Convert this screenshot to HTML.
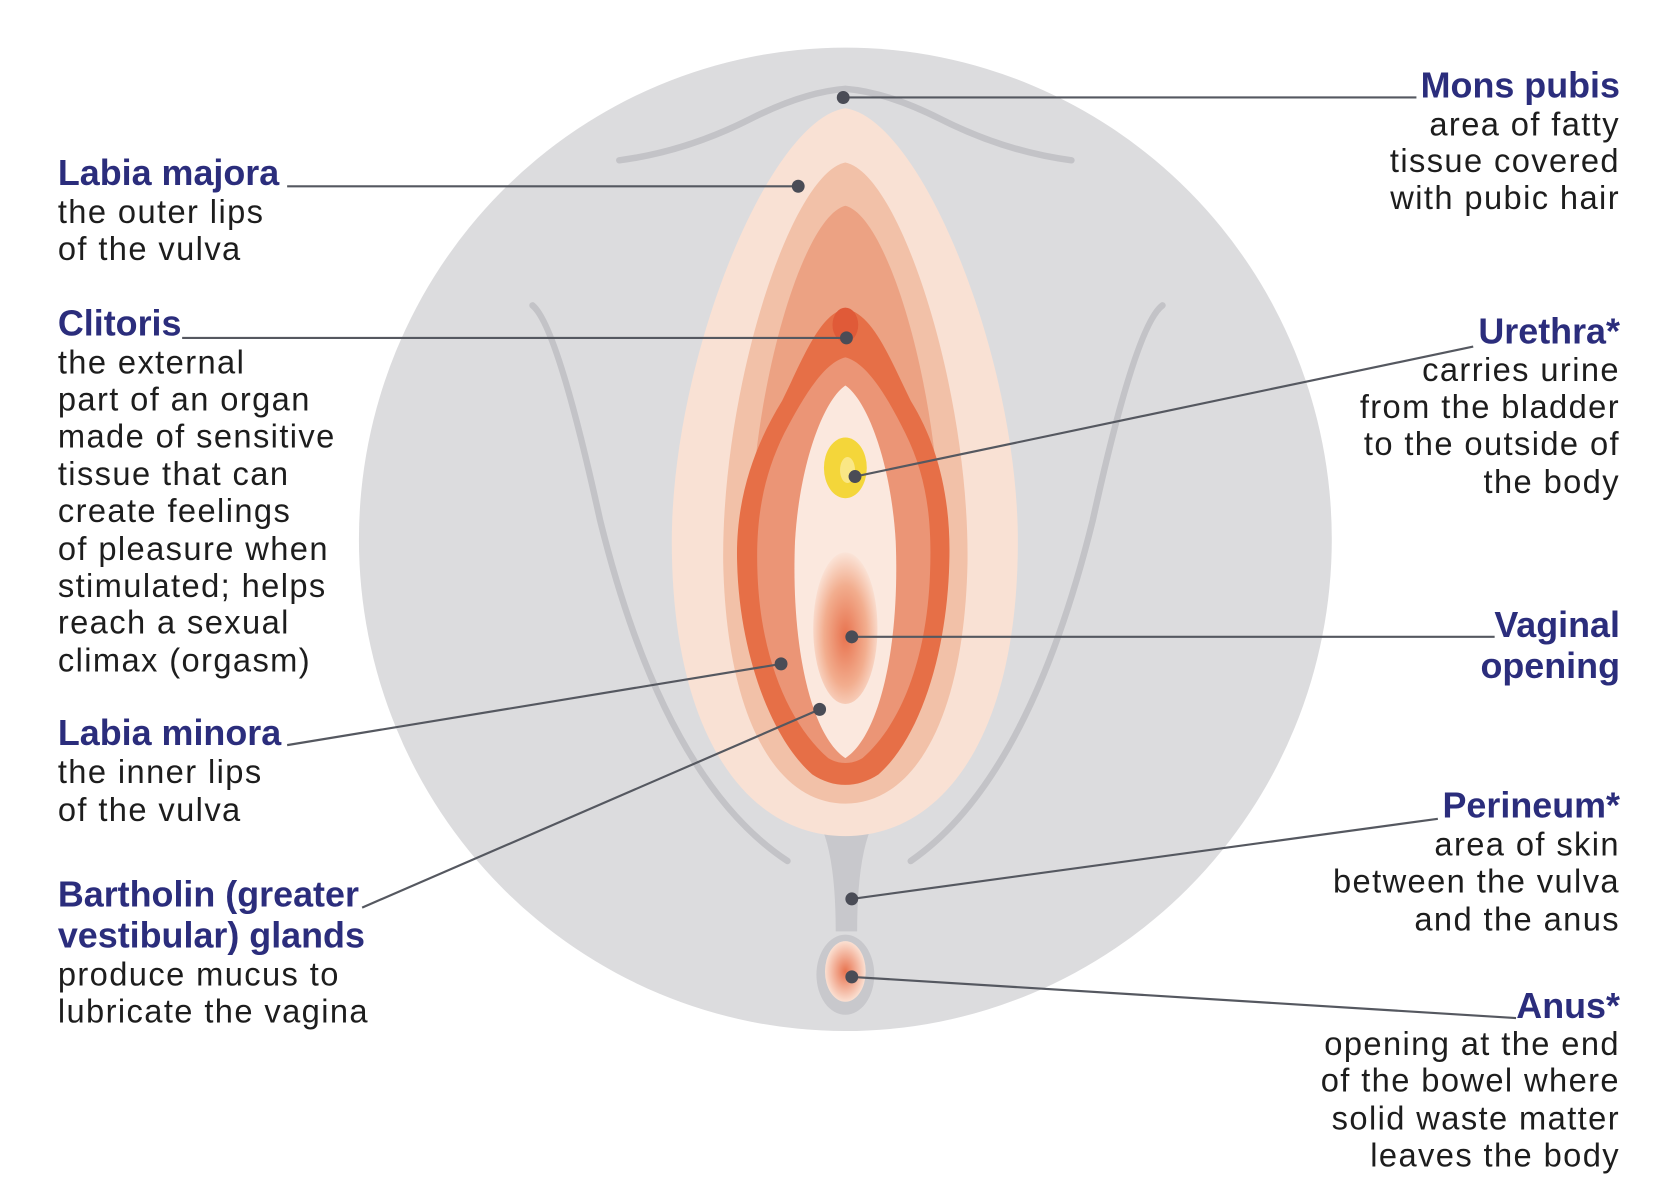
<!DOCTYPE html>
<html><head><meta charset="utf-8"><style>
html,body{margin:0;padding:0;background:#fff;}
svg{display:block}
text{font-family:"Liberation Sans",sans-serif;}
.h{font-weight:bold;fill:#2b2d7c;font-size:33.5px;}
.b{fill:#1d1d1d;font-size:30.5px;letter-spacing:1.3px;}
.r{text-anchor:end}
</style></head><body>
<svg width="1680" height="1200" viewBox="0 0 1568 1108" preserveAspectRatio="none" xmlns="http://www.w3.org/2000/svg">
<defs>
<radialGradient id="vg" cx="0.5" cy="0.55" r="0.55">
<stop offset="0" stop-color="#e8734f"/><stop offset="0.6" stop-color="#f2ad8e"/><stop offset="1" stop-color="#fbe4d8"/>
</radialGradient>
<radialGradient id="ag" cx="0.5" cy="0.5" r="0.5">
<stop offset="0" stop-color="#e8734f"/><stop offset="1" stop-color="#fbe0d2"/>
</radialGradient>
</defs>
<ellipse cx="789" cy="498" rx="454" ry="454" fill="#dcdcde"/>
<path d="M578 148 Q640 140 700 110 Q750 85 789 82 Q828 85 878 110 Q938 140 1000 148" fill="none" stroke="#c3c3c7" stroke-width="6" stroke-linecap="round"/>
<path d="M497 282 Q520 300 560 480 Q620 720 735 795" fill="none" stroke="#c3c3c7" stroke-width="6" stroke-linecap="round"/>
<path d="M1085 282 Q1060 300 1020 480 Q960 720 850 795" fill="none" stroke="#c3c3c7" stroke-width="6" stroke-linecap="round"/>
<path d="M765 760 Q780 790 780 860 L800 860 Q800 790 815 760 Z" fill="#c8c8cc"/>
<ellipse cx="789" cy="900" rx="27" ry="37" fill="#c8c8cc"/>
<ellipse cx="789" cy="897" rx="19" ry="28" fill="url(#ag)"/>
<path d="M789 100 C860 110 950 330 950 500 C950 680 880 772 789 772 C698 772 627 680 627 500 C627 330 718 110 789 100 Z" fill="#f9e1d4"/>
<path d="M789 150 C840 160 905 360 903 520 C900 660 855 742 789 742 C723 742 678 660 675 520 C673 360 738 160 789 150 Z" fill="#f2c1a8"/>
<path d="M789 190 C830 200 880 370 878 520 C875 650 840 720 789 722 C738 720 703 650 700 520 C698 370 748 200 789 190 Z" fill="#eca283"/>
<path d="M789 285 C815 290 830 330 850 370 C875 410 888 460 886 520 C884 600 860 680 820 715 C800 728 778 728 758 715 C718 680 690 600 688 520 C686 460 705 410 730 370 C750 330 765 290 789 285 Z" fill="#e66f47"/>
<path d="M789 330 C810 335 830 370 845 400 C865 440 870 480 868 530 C865 610 840 670 805 700 C795 706 783 706 773 700 C738 670 710 610 707 530 C705 480 712 440 732 400 C748 370 768 335 789 330 Z" fill="#eb9576"/>
<path d="M789 356 C810 370 832 430 836 500 C840 600 820 680 789 700 C758 680 738 600 742 500 C746 430 768 370 789 356 Z" fill="#fbe8de"/>
<ellipse cx="789" cy="300" rx="12" ry="16" fill="#e05a38"/>
<ellipse cx="789" cy="580" rx="30" ry="70" fill="url(#vg)"/>
<ellipse cx="789" cy="432" rx="20" ry="28" fill="#f4d63a"/>
<ellipse cx="791" cy="434" rx="7" ry="12" fill="#fae785"/>
<g stroke="#555860" stroke-width="2" fill="none">
<line x1="787" y1="90" x2="1322" y2="90"/>
<line x1="268" y1="172" x2="745" y2="172"/>
<line x1="170" y1="312" x2="790" y2="312"/>
<line x1="1375" y1="320" x2="798" y2="440"/>
<line x1="1395" y1="588" x2="795" y2="588"/>
<line x1="268" y1="688" x2="729" y2="613"/>
<line x1="338" y1="838" x2="765" y2="655"/>
<line x1="1342" y1="756" x2="795" y2="830"/>
<line x1="1415" y1="940" x2="795" y2="902"/>
</g>
<g fill="#4a4c56">
<circle cx="787" cy="90" r="6"/><circle cx="745" cy="172" r="6"/><circle cx="790" cy="312" r="6"/>
<circle cx="798" cy="440" r="6"/><circle cx="795" cy="588" r="6"/><circle cx="729" cy="613" r="6"/>
<circle cx="765" cy="655" r="6"/><circle cx="795" cy="830" r="6"/><circle cx="795" cy="902" r="6"/>
</g>
<text class="h" x="54" y="171">Labia majora</text>
<text class="b" x="54" y="206">the outer lips</text>
<text class="b" x="54" y="240">of the vulva</text>
<text class="h" x="54" y="310">Clitoris</text>
<text class="b" x="54" y="345">the external</text>
<text class="b" x="54" y="379">part of an organ</text>
<text class="b" x="54" y="413">made of sensitive</text>
<text class="b" x="54" y="448">tissue that can</text>
<text class="b" x="54" y="482">create feelings</text>
<text class="b" x="54" y="517">of pleasure when</text>
<text class="b" x="54" y="551">stimulated; helps</text>
<text class="b" x="54" y="585">reach a sexual</text>
<text class="b" x="54" y="620">climax (orgasm)</text>
<text class="h" x="54" y="688">Labia minora</text>
<text class="b" x="54" y="723">the inner lips</text>
<text class="b" x="54" y="758">of the vulva</text>
<text class="h" x="54" y="837">Bartholin (greater</text>
<text class="h" x="54" y="875">vestibular) glands</text>
<text class="b" x="54" y="910">produce mucus to</text>
<text class="b" x="54" y="944">lubricate the vagina</text>
<text class="h r" x="1512" y="90">Mons pubis</text>
<text class="b r" x="1512" y="125">area of fatty</text>
<text class="b r" x="1512" y="159">tissue covered</text>
<text class="b r" x="1512" y="193">with pubic hair</text>
<text class="h r" x="1512" y="317">Urethra*</text>
<text class="b r" x="1512" y="352">carries urine</text>
<text class="b r" x="1512" y="386">from the bladder</text>
<text class="b r" x="1512" y="420">to the outside of</text>
<text class="b r" x="1512" y="455">the body</text>
<text class="h r" x="1512" y="588">Vaginal</text>
<text class="h r" x="1512" y="626">opening</text>
<text class="h r" x="1512" y="755">Perineum*</text>
<text class="b r" x="1512" y="790">area of skin</text>
<text class="b r" x="1512" y="824">between the vulva</text>
<text class="b r" x="1512" y="859">and the anus</text>
<text class="h r" x="1512" y="940">Anus*</text>
<text class="b r" x="1512" y="974">opening at the end</text>
<text class="b r" x="1512" y="1008">of the bowel where</text>
<text class="b r" x="1512" y="1043">solid waste matter</text>
<text class="b r" x="1512" y="1077">leaves the body</text>
</svg>
</body></html>
